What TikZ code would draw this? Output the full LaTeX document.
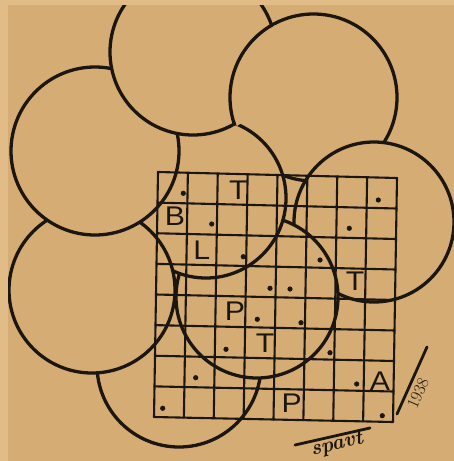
\documentclass[tikz,border=0pt]{standalone}
\usepackage{fontspec}
\newfontfamily\lettering[FakeStretch=1.12]{Liberation Sans}
\usetikzlibrary{calc}
\definecolor{paper}{RGB}{214,172,117}
\definecolor{margin}{RGB}{226,188,134}
\definecolor{ink}{RGB}{28,22,16}

\begin{document}
\begin{tikzpicture}[
  x=1pt, y=-1pt,
  rim/.style={ink, line width=3.3pt},
  disc/.style={rim, fill=paper},
  cell/.style={ink, line width=2.1pt, line cap=round},
  letter/.style={inner sep=0pt, text=ink, font=\lettering\fontsize{27}{27}\selectfont},
  hand/.style={ink, line width=2.8pt, line cap=round}
]
  \useasboundingbox (0,0) rectangle (454,461);
  \fill[margin] (0,0) rectangle (454,461);
  \fill[paper] (8,5) rectangle (454,461);
  \clip (8,5) rectangle (454,461);

  % disc centres
  \coordinate (c1) at (193,52);
  \coordinate (c2) at (313.5,97.5);
  \coordinate (c3) at (95,151);
  \coordinate (c4) at (206,198);
  \coordinate (c5) at (92,290);
  \coordinate (c6) at (257,297);
  \coordinate (c7) at (374,222);
  \coordinate (c8) at (179,365);

  % discs from the lowest up
  \draw[disc] (c2) circle (83.5);
  \draw[disc] (c7) circle (80);
  \draw[disc] (c8) circle (82);
  \draw[disc] (c6) circle (81);
  \draw[disc] (c4) circle (80);
  \draw[disc] (c5) circle (83);
  \draw[disc] (c3) circle (84);
  \draw[disc] (c1) circle (83);
  % but disc 2 lies on disc 1
  \begin{scope}
    \clip (c2) circle (81.8);
    \fill[paper] (c1) circle (86);
  \end{scope}
  \begin{scope}
    \clip (c1) circle (84);
    \draw[rim] (c2) circle (83.5);
  \end{scope}

  % the 8x8 board
  \coordinate (tl) at (158,172);
  \coordinate (tr) at (397,178);
  \coordinate (br) at (393,422);
  \coordinate (bl) at (154,417);
  \foreach \k in {0,...,8} {
    \draw[cell] ($(tl)!\k/8!(tr)$) -- ($(bl)!\k/8!(br)$);
    \draw[cell] ($(tl)!\k/8!(bl)$) -- ($(tr)!\k/8!(br)$);
  }

  % dots
  \foreach \x/\y in {183.3/193.3, 378.3/200, 211.7/224, 349.3/228.3,
      243.3/256.7, 320/260, 270/288.3, 290/289, 257.3/319.3, 301/322.7,
      226/349.3, 330/352.7, 195.7/377.7, 356.7/384, 162.7/408.3, 382.3/415.7}
    \fill[ink] (\x,\y) circle (2.6);

  % letters
  \node[letter] (t1) at (238.3,190) {T};
  \node[letter] (b)  at (175,216.7) {B};
  \node[letter] (l)  at (201.7,250) {L};
  \node[letter] (t2) at (355,281.7) {T};
  \node[letter] (p1) at (235,311.7) {P};
  \node[letter] (t3) at (265,343.3) {T};
  \node[letter] (a)  at (380,381)   {A};
  \node[letter] (p2) at (291.7,403.3) {P};

  % signature and year
  \coordinate (s1) at (295,445);
  \coordinate (s2) at (370,428);
  \draw[hand] (s1) -- (s2);
  \node[rotate=14, text=ink, inner sep=0pt, font=\bfseries\itshape\fontsize{21}{21}\selectfont] (sig) at (337,445) {spavt};
  \coordinate (d1) at (397,414);
  \coordinate (d2) at (427,347);
  \draw[hand] (d1) -- (d2);
  \node[rotate=66, text=ink, inner sep=0pt, font=\fontsize{17}{17}\selectfont] (year) at (418,393) {1938};
\end{tikzpicture}
\end{document}
